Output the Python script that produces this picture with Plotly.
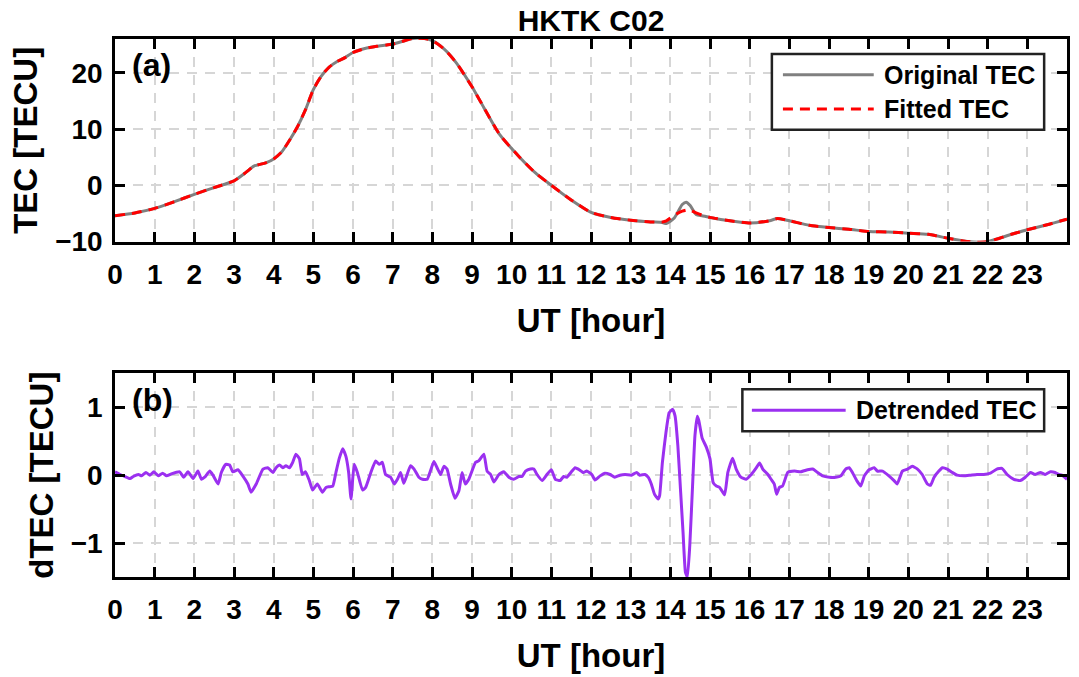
import plotly.graph_objects as go

# ---------------- data ----------------
tec_hours = [0, 0.5, 1, 1.5, 2, 2.5, 3, 3.3, 3.5, 3.8, 4, 4.2, 4.4, 4.6, 4.8, 5.0, 5.2, 5.4,
             5.6, 5.8, 6.0, 6.3, 6.6, 7.0, 7.3, 7.5, 7.8, 8.0, 8.3, 8.6, 9.0, 9.3, 9.7, 10.2,
             10.6, 11.0, 11.5, 12.0, 12.5, 13.0, 13.5, 13.8, 13.9, 14.1, 14.3, 14.4, 14.5,
             14.65, 14.8, 15.0, 15.5, 16.0, 16.5, 16.7, 17.0, 17.5, 18.0, 18.5, 19.0, 19.5,
             20.0, 20.5, 21.0, 21.5, 21.8, 22.0, 22.3, 22.6, 23.0, 23.5, 24.0]
tec_original = [-5.4, -4.9, -4.1, -2.9, -1.6, -0.4, 0.8, 2.3, 3.4, 4.0, 4.7, 5.9, 8.0, 10.4,
                13.4, 17.0, 19.4, 21.0, 22.0, 22.7, 23.6, 24.3, 24.7, 25.1, 25.7, 26.1, 26.1,
                25.7, 24.2, 21.8, 17.5, 13.8, 9.0, 5.0, 2.2, 0.0, -2.6, -4.8, -5.7, -6.2, -6.5,
                -6.6, -6.8, -5.8, -3.4, -3.0, -3.6, -5.2, -5.4, -5.7, -6.3, -6.7, -6.3, -5.9,
                -6.3, -7.1, -7.5, -7.8, -8.2, -8.3, -8.5, -8.7, -9.4, -10.0, -10.1, -10.0,
                -9.4, -8.7, -7.9, -7.0, -6.0]
tec_fitted = [-5.4, -4.9, -4.1, -2.9, -1.6, -0.4, 0.8, 2.3, 3.4, 4.0, 4.7, 5.9, 8.0, 10.4,
              13.4, 17.0, 19.4, 21.0, 22.0, 22.7, 23.6, 24.3, 24.7, 25.1, 25.7, 26.1, 26.1,
              25.7, 24.2, 21.8, 17.5, 13.8, 9.0, 5.0, 2.2, 0.0, -2.6, -4.8, -5.7, -6.2, -6.5,
              -6.5, -6.3, -5.3, -4.6, -4.4, -4.4, -4.9, -5.3, -5.7, -6.3, -6.7, -6.3, -5.9,
              -6.3, -7.1, -7.5, -7.8, -8.2, -8.3, -8.5, -8.7, -9.4, -10.0, -10.1, -10.0,
              -9.4, -8.7, -7.9, -7.0, -6.0]

dtec_hours = [0.0, 0.13, 0.25, 0.38, 0.46, 0.59, 0.67, 0.78, 0.88, 0.98, 1.09, 1.2, 1.3, 1.42,
              1.63, 1.73, 1.84, 1.97, 2.09, 2.18, 2.26, 2.39, 2.47, 2.6, 2.68, 2.79, 2.89, 2.97,
              3.1, 3.22, 3.35, 3.43, 3.56, 3.73, 3.85, 3.98, 4.06, 4.15, 4.23, 4.31, 4.4, 4.48,
              4.56, 4.65, 4.72, 4.8, 4.9, 4.98, 5.1, 5.23, 5.32, 5.4, 5.49, 5.57, 5.65, 5.74,
              5.82, 5.89, 5.95, 6.03, 6.11, 6.24, 6.32, 6.45, 6.57,
              6.66, 6.74, 6.82, 6.95, 7.04, 7.12, 7.2, 7.28, 7.45, 7.54, 7.66, 7.75, 7.87, 8.04,
              8.12, 8.21, 8.29, 8.37, 8.46, 8.57, 8.67, 8.75, 8.83, 8.92, 9.09, 9.17, 9.3, 9.38,
              9.47, 9.55, 9.68, 9.8, 9.93, 10.05, 10.18, 10.26, 10.35, 10.47, 10.56, 10.64,
              10.77, 10.89, 11.0, 11.1, 11.22, 11.31, 11.39, 11.52, 11.6,
              11.68, 11.81, 11.89, 12.02, 12.1, 12.23, 12.35, 12.48, 12.6, 12.73, 12.86, 13.02,
              13.15, 13.23, 13.36, 13.44, 13.52, 13.6, 13.69, 13.73, 13.8, 13.89, 13.97, 14.06,
              14.12, 14.19, 14.26, 14.32, 14.38, 14.43, 14.49, 14.56, 14.62, 14.68, 14.72, 14.8,
              14.91, 15.0, 15.08, 15.16, 15.24, 15.3, 15.37, 15.45, 15.57, 15.66, 15.78, 15.91,
              16.04, 16.17, 16.25, 16.33, 16.46, 16.54, 16.62, 16.68, 16.75, 16.83, 16.96,
              17.13, 17.29, 17.46, 17.59, 17.71, 17.84, 18.01, 18.17, 18.3, 18.42, 18.51, 18.59,
              18.7, 18.8, 18.89, 19.01, 19.14, 19.22, 19.35, 19.51, 19.64, 19.72, 19.85, 19.98,
              20.1, 20.23, 20.35, 20.48, 20.56, 20.65, 20.77, 20.86, 20.98, 21.11, 21.23, 21.4,
              21.57, 21.73, 21.9, 22.07, 22.23, 22.36, 22.49, 22.66, 22.82, 22.95, 23.08, 23.2,
              23.33, 23.45, 23.58, 23.7, 23.79, 23.87, 24.0]
dtec_values = [0.05, 0.01, -0.02, -0.05, -0.02, 0.01, -0.01, 0.04, 0.0, 0.05, -0.01, 0.03, -0.01,
               0.02, 0.05, -0.03, 0.05, -0.05, 0.06, -0.06, -0.03, 0.06, 0.0, -0.13, 0.04, 0.16,
               0.15, 0.05, 0.08, -0.01, -0.13, -0.25, -0.13, 0.09, 0.11, 0.04, 0.11, 0.15, 0.11,
               0.14, 0.11, 0.19, 0.31, 0.24, 0.01, 0.05, -0.08, -0.22, -0.13, -0.25, -0.18, -0.17,
               -0.16, 0.04, 0.24, 0.39, 0.28, 0.04, -0.35, 0.16, 0.04, -0.22, -0.18, 0.04, 0.21,
               0.16, 0.19, 0.01, -0.03, -0.13, -0.06, 0.04, -0.12, 0.14, 0.09, -0.03, -0.06, -0.06,
               0.2, 0.11, 0.01, 0.13, 0.09, -0.13, -0.34, -0.23, 0.04, -0.13, -0.06, 0.19, 0.21,
               0.31, 0.06, 0.01, -0.1, 0.01, 0.05, -0.03, -0.06, -0.02, -0.02, 0.06, 0.09, 0.09,
               0.01, -0.08, 0.01, 0.08, -0.06, -0.08, -0.02, -0.03, 0.06, 0.11,
               0.09, 0.04, 0.06, 0.01, -0.07, -0.01, 0.03, 0.01, -0.03, 0.0, 0.01, 0.0, 0.04, 0.0,
               0.01, -0.03, -0.13, -0.28, -0.35, -0.3, 0.19, 0.63, 0.92, 0.97, 0.87, 0.43, -0.25,
               -0.84, -1.43, -1.5, -1.04, -0.16, 0.58, 0.87, 0.8, 0.55, 0.41, 0.24, -0.11, -0.16,
               -0.18, -0.23, -0.29, 0.04, 0.25, 0.09, -0.03, -0.06, 0.01, 0.11, 0.18, 0.09, 0.01,
               -0.06, -0.13, -0.28, -0.18, -0.16, 0.04, 0.06, 0.05, 0.08, 0.09, 0.04, -0.01, -0.03,
               -0.03, -0.01, 0.09, 0.11, 0.04, -0.08, -0.16, -0.01, 0.08, 0.11, 0.06, 0.06, -0.01,
               -0.08, -0.13, 0.06, 0.09, 0.13, 0.09, 0.01, -0.13, -0.15, -0.03, 0.06, 0.11, 0.09,
               0.04, 0.0, -0.01, 0.0, 0.01, 0.01, 0.03, 0.09, 0.1, 0.01, -0.06, -0.08, -0.03, 0.04,
               0.01, 0.04, 0.01, 0.05, 0.04, 0.01, 0.0, -0.06]

hour_ticks = list(range(24))
tec_ticks = [-10, 0, 10, 20]
dtec_ticks = [-1, 0, 1]

# ---------------- style ----------------
FONT = "Liberation Sans, Arial, sans-serif"
TOP_DOMAIN = [0.6234, 1.0]
BOT_DOMAIN = [0.0, 0.3785]
GRAY = "#808080"
RED = "#FF0000"
PURPLE = "#9B30F0"
RED_DASH = "10px,7px"

fig = go.Figure()
fig.add_trace(go.Scatter(
    x=tec_hours, y=tec_original, mode="lines", name="Original TEC",
    line=dict(color=GRAY, width=3, shape="spline", smoothing=0.6),
    xaxis="x", yaxis="y", showlegend=False))
fig.add_trace(go.Scatter(
    x=tec_hours, y=tec_fitted, mode="lines", name="Fitted TEC",
    line=dict(color=RED, width=3, dash=RED_DASH, shape="spline", smoothing=0.6),
    xaxis="x", yaxis="y", showlegend=False))
fig.add_trace(go.Scatter(
    x=dtec_hours, y=dtec_values, mode="lines", name="Detrended TEC",
    line=dict(color=PURPLE, width=3, shape="spline", smoothing=0.4),
    xaxis="x2", yaxis="y2", showlegend=False))

tick_font = dict(family=FONT, size=28, color="black", weight="bold")
title_font = dict(family=FONT, size=33, color="black", weight="bold")
legend_font = dict(family=FONT, size=25, color="black", weight="bold")
label_font = dict(family=FONT, size=32, color="black", weight="bold")
axis_common = dict(
    showline=True, linecolor="black", linewidth=2.5, mirror="ticks",
    ticks="inside", ticklen=10, tickwidth=2.5, tickcolor="black",
    showgrid=True, gridcolor="#d6d6d6", gridwidth=2, griddash="10px,8px",
    zeroline=False, tickfont=tick_font,
)

# legend boxes drawn in axis-domain coordinates (legend lines need custom length)
shapes = [
    dict(type="rect", xref="x domain", yref="y domain", x0=0.690, x1=0.976, y0=0.552, y1=0.926,
         line=dict(color="#222222", width=2.5), fillcolor="white", layer="above"),
    dict(type="line", xref="x domain", yref="y domain", x0=0.7016, x1=0.797, y0=0.823, y1=0.823,
         line=dict(color=GRAY, width=3), layer="above"),
    dict(type="line", xref="x domain", yref="y domain", x0=0.7016, x1=0.797, y0=0.655, y1=0.655,
         line=dict(color=RED, width=3, dash=RED_DASH), layer="above"),
    dict(type="rect", xref="x2 domain", yref="y2 domain", x0=0.659, x1=0.976, y0=0.716, y1=0.922,
         line=dict(color="#222222", width=2.5), fillcolor="white", layer="above"),
    dict(type="line", xref="x2 domain", yref="y2 domain", x0=0.669, x1=0.7675, y0=0.819, y1=0.819,
         line=dict(color=PURPLE, width=3), layer="above"),
]

annotations = [
    dict(text="(a)", xref="x domain", yref="y domain", x=0.016, y=0.872,
         xanchor="left", yanchor="middle", showarrow=False, font=label_font),
    dict(text="(b)", xref="x2 domain", yref="y2 domain", x=0.016, y=0.868,
         xanchor="left", yanchor="middle", showarrow=False, font=label_font),
    dict(text="Original TEC", xref="x domain", yref="y domain", x=0.806, y=0.823,
         xanchor="left", yanchor="middle", showarrow=False, font=legend_font),
    dict(text="Fitted TEC", xref="x domain", yref="y domain", x=0.806, y=0.655,
         xanchor="left", yanchor="middle", showarrow=False, font=legend_font),
    dict(text="Detrended TEC", xref="x2 domain", yref="y2 domain", x=0.776, y=0.819,
         xanchor="left", yanchor="middle", showarrow=False, font=legend_font),
]

fig.update_layout(
    width=1079, height=677,
    margin=dict(l=115, r=9, t=39, b=99),
    paper_bgcolor="white", plot_bgcolor="white",
    showlegend=False,
    title=dict(text="HKTK C02", x=0.5, xref="paper", xanchor="center",
               y=1 - 20 / 677, yref="container", yanchor="middle",
               font=dict(family=FONT, size=30, color="black", weight="bold")),
    xaxis=dict(axis_common, domain=[0, 1], anchor="y", range=[0, 24],
               tickvals=hour_ticks, ticklabelstandoff=6,
               title=dict(text="UT [hour]", font=title_font, standoff=20)),
    yaxis=dict(axis_common, domain=TOP_DOMAIN, anchor="x", range=[-10, 26],
               tickvals=tec_ticks, ticklabelstandoff=4,
               title=dict(text="TEC [TECU]", font=title_font, standoff=8)),
    xaxis2=dict(axis_common, domain=[0, 1], anchor="y2", range=[0, 24],
                tickvals=hour_ticks, ticklabelstandoff=6,
                title=dict(text="UT [hour]", font=title_font, standoff=20)),
    yaxis2=dict(axis_common, domain=BOT_DOMAIN, anchor="x2", range=[-1.5, 1.5],
                tickvals=dtec_ticks, ticklabelstandoff=4,
                title=dict(text="dTEC [TECU]", font=title_font, standoff=8)),
    shapes=shapes,
    annotations=annotations,
)

fig.write_html("out.html")
